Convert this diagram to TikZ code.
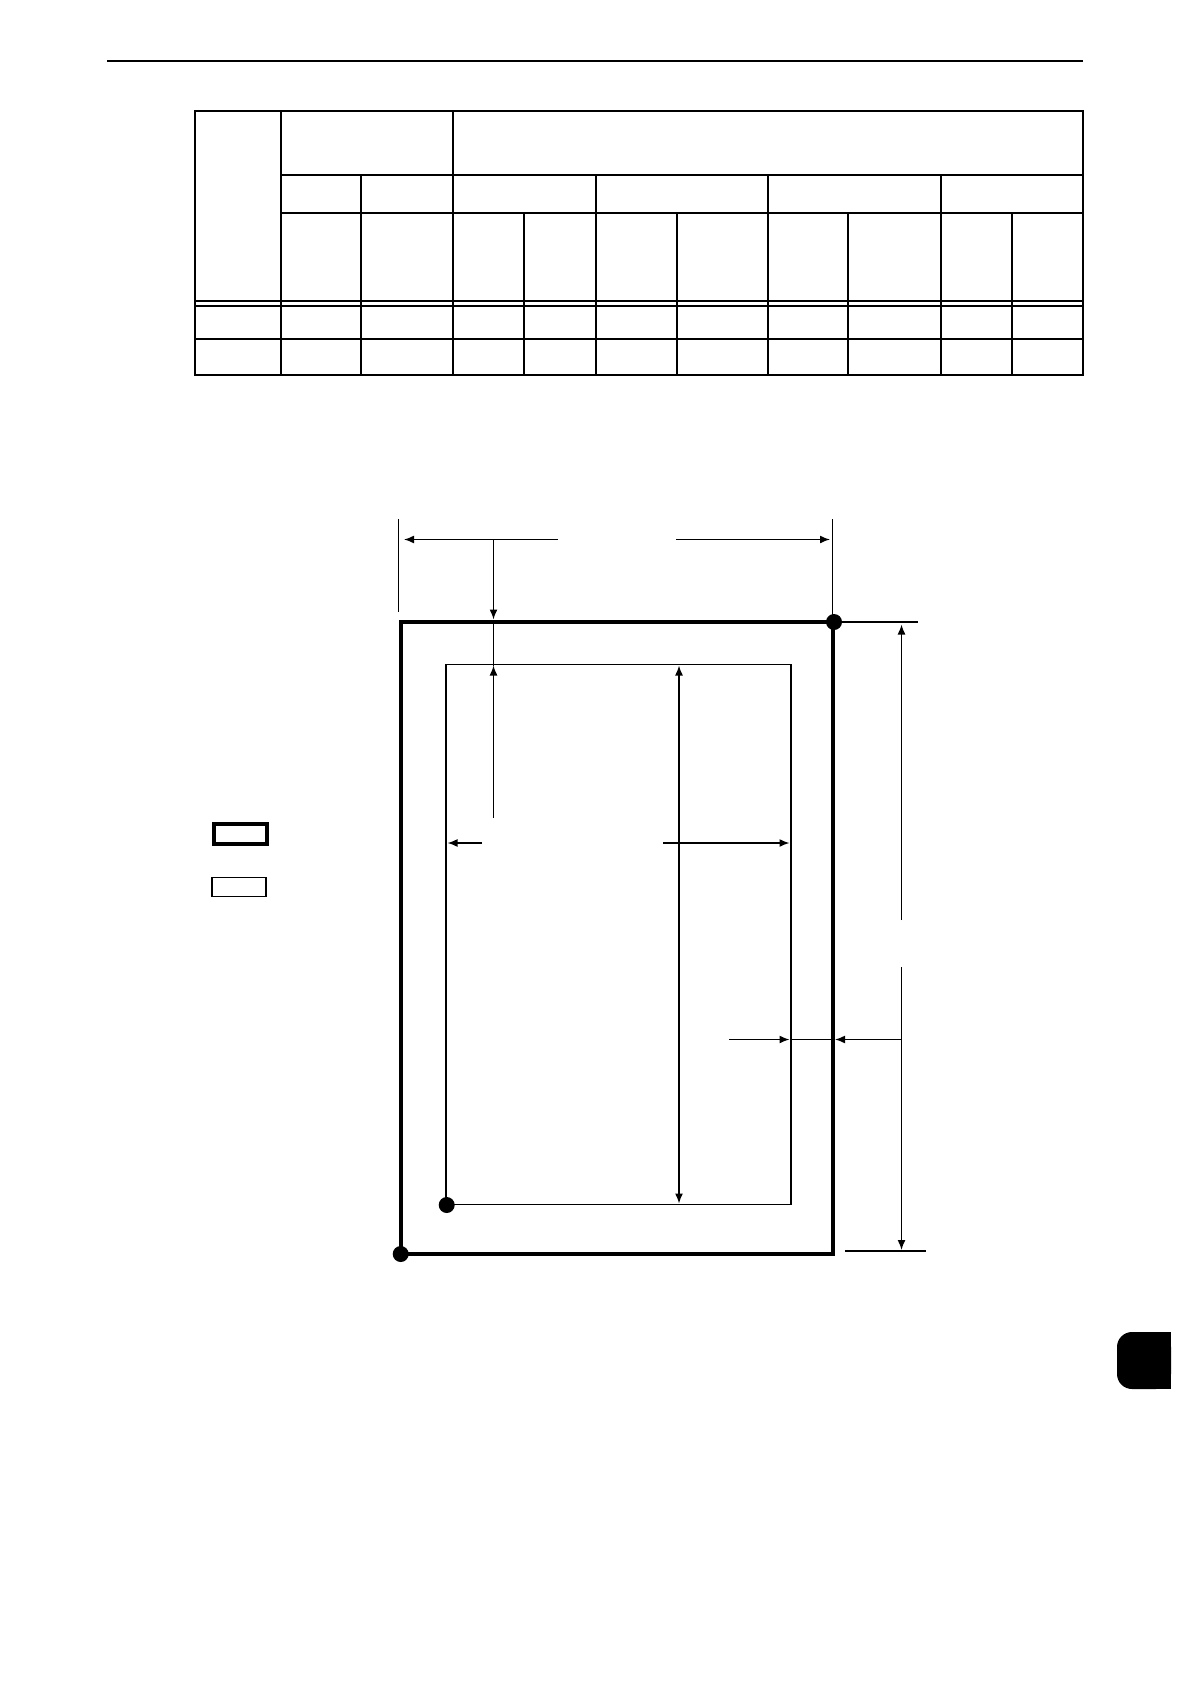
\documentclass[tikz,border=0pt]{standalone}
\usetikzlibrary{arrows.meta}
\begin{document}
\begin{tikzpicture}[x=0.5pt,y=-0.5pt,
  tbl/.style={line width=1pt},
  dimline/.style={line width=0.75pt},
  arr/.style={dimline,-{Latex[length=5pt,width=4pt]}},
  dbl/.style={dimline,{Latex[length=5pt,width=4pt]}-{Latex[length=5pt,width=4pt]}},
  dot/.style={fill=black}]
\useasboundingbox (0,0) rectangle (1190,1684);
% header rule
\draw[line width=1pt] (107,61) -- (1083,61);
% table
\draw[tbl] (195,111) rectangle (1083,375);
\foreach \yy in {175,213} \draw[tbl] (281,\yy) -- (1083,\yy);
\foreach \yy in {301,306,339} \draw[tbl] (195,\yy) -- (1083,\yy);
\foreach \xx in {281,453} \draw[tbl] (\xx,111) -- (\xx,375);
\foreach \xx in {361,596,768,941} \draw[tbl] (\xx,175) -- (\xx,375);
\foreach \xx in {524,677,848,1012} \draw[tbl] (\xx,213) -- (\xx,375);
% named points
\coordinate (oTL) at (400.5,622);
\coordinate (oBR) at (833,1253.5);
\coordinate (iTL) at (445.7,664.5);
\coordinate (iBR) at (791,1204.5);
% outer and inner rectangles
\draw[line width=2pt] (oTL) rectangle (oBR);
\draw[line width=0.9pt] (iTL) rectangle (iBR);
% dots
\fill[dot] (834,622) circle[radius=4pt];
\fill[dot] (446.7,1205) circle[radius=4pt];
\fill[dot] (400.7,1254) circle[radius=4pt];
% extension lines
\draw[dimline] (398.5,519) -- (398.5,611.5);
\draw[dimline] (832.5,519) -- (832.5,622);
\draw[dimline] (834,622) -- (918,622);
\draw[dimline] (845,1251) -- (926,1251);
% top width dimension
\draw[arr] (557.5,539.5) -- (404,539.5);
\draw[arr] (676,539.5) -- (830,539.5);
% top margin
\draw[arr] (493.5,539.5) -- (493.5,619.5);
\draw[dimline] (493.5,622) -- (493.5,666);
\draw[arr] (493.5,818) -- (493.5,665.5);
% inner width
\draw[arr] (482,843) -- (447.5,843);
\draw[arr] (663,843) -- (789.5,843);
% inner height
\draw[dbl] (679,665.5) -- (679,1203.5);
% right height
\draw[arr] (901.5,920) -- (901.5,624.5);
\draw[arr] (901.5,967) -- (901.5,1250);
% right margin
\draw[arr] (729,1039.5) -- (789.5,1039.5);
\draw[dimline] (791,1039.5) -- (832,1039.5);
\draw[arr] (901.5,1039.5) -- (835,1039.5);
% legend boxes
\draw[line width=2pt] (214,824) rectangle (266.5,844);
\draw[line width=0.6pt] (212,877.5) rectangle (266,896.8);
% side tab
\fill[rounded corners=7.5pt] (1117,1332) rectangle (1171,1389);
\fill (1145,1332) rectangle (1171,1389);
\end{tikzpicture}
\end{document}
